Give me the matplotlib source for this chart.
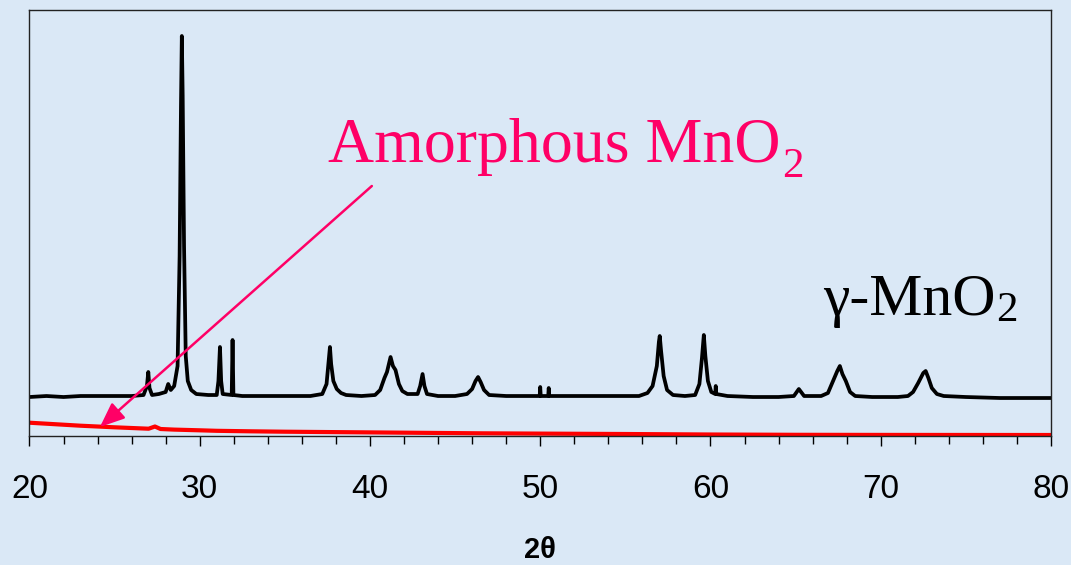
import matplotlib
matplotlib.use('Agg')
import matplotlib.pyplot as plt
from matplotlib.transforms import offset_copy

two_theta_gamma = [20.0, 21.0, 22.0, 23.0, 24.0, 25.0, 26.0, 26.7, 26.9, 26.98, 27.05, 27.2, 27.6,
                   28.0, 28.15, 28.3, 28.5, 28.7, 28.82, 28.9, 28.95, 29.0, 29.08, 29.18, 29.3, 29.5,
                   29.8, 30.5, 31.0, 31.1, 31.19, 31.26, 31.35, 31.88, 31.93, 31.98, 32.5, 33.5,
                   34.5, 35.5, 36.5, 37.2, 37.45, 37.6, 37.65, 37.72, 37.85, 38.05, 38.3, 38.6,
                   39.5, 40.3, 40.6, 40.85, 41.0, 41.21, 41.35, 41.5, 41.7, 41.9, 42.2, 42.8,
                   42.95, 43.09, 43.2, 43.35, 44.0, 45.0, 45.7, 46.0, 46.2, 46.35, 46.5, 46.7,
                   47.0, 48.0, 49.0, 49.97, 50.0, 50.03, 50.47, 50.5, 50.53, 51.5, 53.0, 54.5,
                   55.8, 56.3, 56.6, 56.85, 56.97, 57.02, 57.1, 57.25, 57.45, 57.8, 58.5, 59.1,
                   59.35, 59.5, 59.61, 59.7, 59.85, 60.05, 60.28, 60.31, 60.34, 61.0, 62.5, 64.0,
                   64.9, 65.19, 65.5, 66.5, 66.9, 67.2, 67.45, 67.6, 67.75, 67.95, 68.2, 68.5,
                   69.5, 71.0, 71.6, 71.9, 72.2, 72.5, 72.64, 72.8, 73.0, 73.3, 73.7, 75.0,
                   77.0, 79.0, 80.0]
intensity_gamma = [39, 40, 39, 40, 40, 40, 40, 41, 50, 64, 48, 41, 42,
                   44, 52, 46, 50, 70, 180, 330, 400, 340, 190, 80, 55, 46,
                   42, 41, 41, 55, 89, 55, 42, 41, 96, 41, 40, 40,
                   40, 40, 40, 42, 52, 80, 89, 72, 55, 47, 43, 41,
                   40, 41, 46, 58, 64, 79, 70, 66, 52, 45, 42, 42,
                   50, 62, 50, 42, 40, 40, 42, 47, 55, 59, 54, 46,
                   41, 40, 40, 40, 49, 40, 40, 48, 40, 40, 40, 40,
                   40, 43, 50, 70, 94, 100, 85, 60, 46, 41, 40, 41,
                   52, 78, 101, 80, 55, 44, 42, 50, 42, 40, 39, 39,
                   40, 47, 40, 40, 43, 55, 65, 70, 62, 55, 44, 40,
                   39, 39, 40, 44, 53, 63, 65, 58, 48, 42, 40, 39,
                   38, 38, 38]

two_theta_amorph = [20.0, 21.0, 22.0, 23.0, 24.0, 25.0, 26.0, 27.0, 27.37, 27.7, 28.5, 30.0,
                    31.0, 33.0, 35.0, 39.4, 46.5, 50.0, 55.0, 60.0, 65.0, 70.0, 80.0]
intensity_amorph = [13.3, 12.3, 11.3, 10.3, 9.5, 8.7, 8.0, 7.3, 9.5, 7.0, 6.4, 5.7,
                    5.2, 4.7, 4.3, 3.7, 2.7, 2.4, 2.0, 1.5, 1.2, 1.1, 1.0]

x_ticks = [20, 30, 40, 50, 60, 70, 80]

pink = '#ff0066'
bg = '#dae8f6'

plt.rcParams['font.family'] = ['Liberation Sans', 'DejaVu Sans']

fig = plt.figure(figsize=(10.71, 5.65), dpi=100, facecolor=bg)
ax = fig.add_axes([0.0275, 0.2283, 0.9538, 0.754])
ax.set_facecolor(bg)

# Kurven
ax.plot(two_theta_gamma, intensity_gamma, color='black', lw=2.7)
ax.plot(two_theta_amorph, intensity_amorph, color='red', lw=3)

ax.set_xlim(20, 80)
ax.set_ylim(0, 426)

# Achsen: nur x-Ticks, y ohne Beschriftung
ax.set_xticks(x_ticks)
ax.set_xticks(range(20, 81, 2), minor=True)
ax.set_yticks([])
ax.tick_params(axis='x', which='major', direction='out', length=7.5, width=1, pad=20, labelsize=24)
ax.tick_params(axis='x', which='minor', direction='out', length=5.5, width=1)
for s in ax.spines.values():
    s.set_linewidth(1)
    s.set_color('#222222')

ax.set_xlabel('2θ', fontsize=21, fontweight='bold', labelpad=22,
              family=['Liberation Sans', 'DejaVu Sans'])


def label_with_sub(x, y, main, sub, color, size, sub_size, drop):
    # Haupttext und tiefgestellte Ziffer als zwei Texte (wie in PowerPoint)
    t = ax.text(x, y, main, color=color, fontsize=size, family='Liberation Serif',
                va='baseline', ha='left')
    fig.canvas.draw()
    bb = t.get_window_extent()
    x_end = ax.transData.inverted().transform((bb.x1, bb.y0))[0]
    tr = offset_copy(ax.transData, fig=fig, x=1, y=-drop, units='points')
    ax.text(x_end, y, sub, color=color, fontsize=sub_size, family='Liberation Serif',
            va='baseline', ha='left', transform=tr)


label_with_sub(37.53, 274, 'Amorphous MnO', '2', pink, 46, 31, 10.5)
label_with_sub(66.59, 121, 'γ-MnO', '2', 'black', 43, 31, 4)

ax.annotate('', xy=(24.14, 9), xytext=(40.11, 250),
            arrowprops=dict(arrowstyle='-|>,head_length=0.6,head_width=0.25',
                            color=pink, lw=1.8, mutation_scale=25, shrinkA=0, shrinkB=0))

fig.savefig('out.png', dpi=100, facecolor=bg)
